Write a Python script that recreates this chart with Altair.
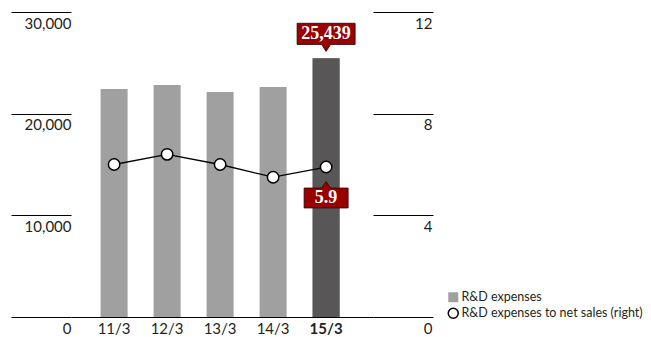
import altair as alt
import pandas as pd

years = ["11/3", "12/3", "13/3", "14/3", "15/3"]
rd_expenses = [22430, 22820, 22130, 22620, 25439]
rd_ratio = [6.0, 6.4, 6.0, 5.5, 5.9]
left_ticks = [0, 10000, 20000, 30000]
right_ticks = [0, 4, 8, 12]
series_bar = "R&D expenses"
series_line = "R&D expenses to net sales (right)"
highlight = "15/3"

df = pd.DataFrame({
    "year": years,
    "expense": rd_expenses,
    "ratio": rd_ratio,
    "s1": series_bar,
    "s2": series_line,
})
df["exp_label"] = [f"{v:,}" for v in rd_expenses]
df["ratio_label"] = [f"{v:.1f}" for v in rd_ratio]

TXT = "#231f20"
FONT = "Lato"

x_enc = alt.X(
    "year:N", sort=years,
    scale=alt.Scale(paddingInner=0.49, paddingOuter=0.594, align=0.47),
    axis=alt.Axis(
        title=None, domainColor="black", domainWidth=1, ticks=False,
        labelAngle=0, labelFontSize=15, labelFont=FONT, labelColor=TXT,
        labelPadding=4,
        labelFontWeight=alt.condition(f"datum.value == '{highlight}'",
                                      alt.value("bold"), alt.value("normal")),
    ),
)

y_left = alt.Y(
    "expense:Q",
    scale=alt.Scale(domain=[0, 30000], nice=False),
    axis=alt.Axis(
        title=None, values=left_ticks, format=",.0f", domain=False, grid=False,
        tickSize=60, tickColor="black", tickWidth=1,
        labelAlign="right", labelBaseline="top", labelPadding=-60,
        labelOffset=4, labelFontSize=15, labelFont=FONT, labelColor=TXT,
        orient="left",
    ),
)

y_right = alt.Y(
    "ratio:Q",
    scale=alt.Scale(domain=[0, 12], nice=False),
    axis=alt.Axis(
        title=None, values=right_ticks, format="d", domain=False, grid=False,
        tickSize=60, tickColor="black", tickWidth=1,
        labelAlign="right", labelBaseline="top", labelPadding=-1,
        labelOffset=4, labelFontSize=15, labelFont=FONT, labelColor=TXT,
        orient="right",
    ),
)

base = alt.Chart(df)

bars = base.mark_bar().encode(
    x=x_enc, y=y_left,
    color=alt.Color("s1:N", scale=alt.Scale(range=["#a0a0a0"]),
                    legend=alt.Legend(title=None, orient="none", legendX=376, legendY=279,
                                      symbolType="square", symbolSize=100,
                                      symbolStrokeWidth=0, labelFontSize=12.5,
                                      labelFont=FONT, labelColor=TXT, labelOffset=2,
                                      labelLimit=0)),
)
bar_hi = base.mark_bar(color="#585656").encode(x=x_enc, y=y_left).transform_filter(
    f"datum.year == '{highlight}'")

path1 = "M-1,-1.21 L1,-1.21 L1,-0.48 L0.155,-0.48 L0,-0.24 L-0.155,-0.48 L-1,-0.48 Z"
box1 = base.mark_point(shape=path1, size=3364, filled=True, fill="#990000",
                       stroke="#2a0000", strokeWidth=0.8, opacity=1).encode(
    x=x_enc, y=y_left).transform_filter(f"datum.year == '{highlight}'")
text1 = base.mark_text(font="Liberation Serif", fontWeight="bold", fontSize=18,
                       color="white", dy=-24, baseline="middle").encode(
    x=x_enc, y=y_left, text="exp_label:N").transform_filter(f"datum.year == '{highlight}'")

left = alt.layer(bars, bar_hi, box1, text1)

line = base.mark_line(color="black", strokeWidth=1.3).encode(x=x_enc, y=y_right)
path2 = "M-1,0.955 L-0.2,0.955 L0,0.66 L0.2,0.955 L1,0.955 L1,1.86 L-1,1.86 Z"
box2 = base.mark_point(shape=path2, size=1936, filled=True, fill="#990000",
                       stroke="#2a0000", strokeWidth=0.8, opacity=1).encode(
    x=x_enc, y=y_right).transform_filter(f"datum.year == '{highlight}'")
line_legend = alt.Legend(title=None, orient="none", legendX=376, legendY=295,
                         symbolType="circle", symbolSize=100, symbolFillColor="white",
                         symbolStrokeWidth=1.5,
                         labelFontSize=12.5, labelFont=FONT, labelColor=TXT,
                         labelOffset=2, labelLimit=0)
points = base.mark_point(filled=True, fill="white", strokeWidth=1.5,
                         size=130, opacity=1).encode(
    x=x_enc, y=y_right,
    stroke=alt.Stroke("s2:N", scale=alt.Scale(range=["black"]), legend=line_legend),
)
text2 = base.mark_text(font="Liberation Serif", fontWeight="bold", fontSize=18,
                       color="white", dy=31, baseline="middle").encode(
    x=x_enc, y=y_right, text="ratio_label:N").transform_filter(f"datum.year == '{highlight}'")

right = alt.layer(line, box2, points, text2)

chart = alt.layer(left, right).resolve_scale(y="independent").properties(
    width=302, height=305,
    padding={"left": 2, "top": 3, "right": 0, "bottom": 0},
).configure_view(stroke=None)

chart.save("out.html", embed_options={"renderer": "svg", "actions": False})
